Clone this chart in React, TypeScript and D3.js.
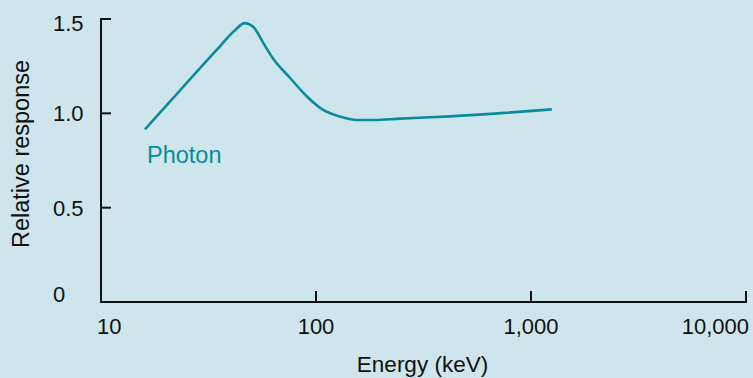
import { useEffect, useRef } from "react";
import * as d3 from "d3";

// photon response curve
const energyKeV = [16, 25, 34.5, 42, 46.5, 51, 57, 63, 76, 91, 108, 129, 155, 185, 246, 340, 700, 1250];
const response = [0.915, 1.16, 1.336, 1.44, 1.478, 1.459, 1.371, 1.292, 1.186, 1.088, 1.018, 0.983, 0.965, 0.965, 0.972, 0.979, 1.0, 1.021];

const xTicks = [10, 100, 1000, 10000];
const xTickLabels = ["10", "100", "1,000", "10,000"];
const yTicks = [0, 0.5, 1.0, 1.5];
const yTickLabels = ["0", "0.5", "1.0", "1.5"];

const seriesLabel = "Photon";
const xTitle = "Energy (keV)";
const yTitle = "Relative response";

const W = 753;
const H = 378;
const BG = "#cee5eb";
const TEAL = "#0a8b9d";
const FONT = "'Liberation Sans', Arial, Helvetica, sans-serif";

export default function App() {
  const ref = useRef<SVGSVGElement>(null);

  useEffect(() => {
    document.body.style.margin = "0";
    const svg = d3.select(ref.current);
    svg.selectAll("*").remove();

    const x = d3.scaleLog().domain([10, 10000]).range([101, 746]);
    const y = d3.scaleLinear().domain([0, 1.5]).range([302, 19]);

    svg.append("rect").attr("width", W).attr("height", H).attr("fill", BG);

    const axis = svg.append("g").attr("stroke", "#111").attr("stroke-width", 2).attr("fill", "none");

    // y axis + ticks pointing right
    axis.append("line")
      .attr("x1", x(10)).attr("x2", x(10))
      .attr("y1", y(1.5) - 1).attr("y2", y(0) + 1);
    yTicks.filter(v => v > 0).forEach(v => {
      axis.append("line")
        .attr("x1", x(10)).attr("x2", x(10) + 10)
        .attr("y1", y(v)).attr("y2", y(v));
    });

    // x axis + ticks pointing up
    axis.append("line")
      .attr("x1", x(10) - 1).attr("x2", x(10000) + 1)
      .attr("y1", y(0)).attr("y2", y(0));
    xTicks.slice(1).forEach(v => {
      axis.append("line")
        .attr("x1", x(v)).attr("x2", x(v))
        .attr("y1", y(0)).attr("y2", y(0) - 11);
    });

    const text = svg.append("g").style("font-family", FONT).style("font-size", "22px").attr("fill", "#111");

    yTicks.forEach((v, i) => {
      text.append("text")
        .attr("x", 53)
        .attr("y", y(v) + (v === 0 ? 0 : v === 1.5 ? 12 : 8))
        .text(yTickLabels[i]);
    });

    xTicks.forEach((v, i) => {
      const last = i === xTicks.length - 1;
      const first = i === 0;
      text.append("text")
        .attr("x", first ? x(v) - 4 : last ? x(v) + 3 : x(v))
        .attr("y", 334)
        .attr("text-anchor", first ? "start" : last ? "end" : "middle")
        .text(xTickLabels[i]);
    });

    text.append("text")
      .attr("x", (x(100) + x(1000)) / 2 - 1)
      .attr("y", 372)
      .attr("text-anchor", "middle")
      .style("font-size", "22.5px")
      .text(xTitle);

    text.append("text")
      .attr("transform", `translate(29,154) rotate(-90)`)
      .attr("text-anchor", "middle")
      .style("font-size", "23.5px")
      .text(yTitle);

    const line = d3.line<number>()
      .x((_, i) => x(energyKeV[i]))
      .y(d => y(d))
      .curve(d3.curveMonotoneX);

    svg.append("path")
      .datum(response)
      .attr("d", line)
      .attr("fill", "none")
      .attr("stroke", TEAL)
      .attr("stroke-width", 2.6);

    svg.append("text")
      .attr("x", 147)
      .attr("y", 163)
      .style("font-family", FONT)
      .style("font-size", "23.5px")
      .attr("fill", TEAL)
      .text(seriesLabel);
  }, []);

  return (
    <svg
      ref={ref}
      width={W}
      height={H}
      style={{ position: "absolute", left: 0, top: 0, display: "block" }}
    />
  );
}
